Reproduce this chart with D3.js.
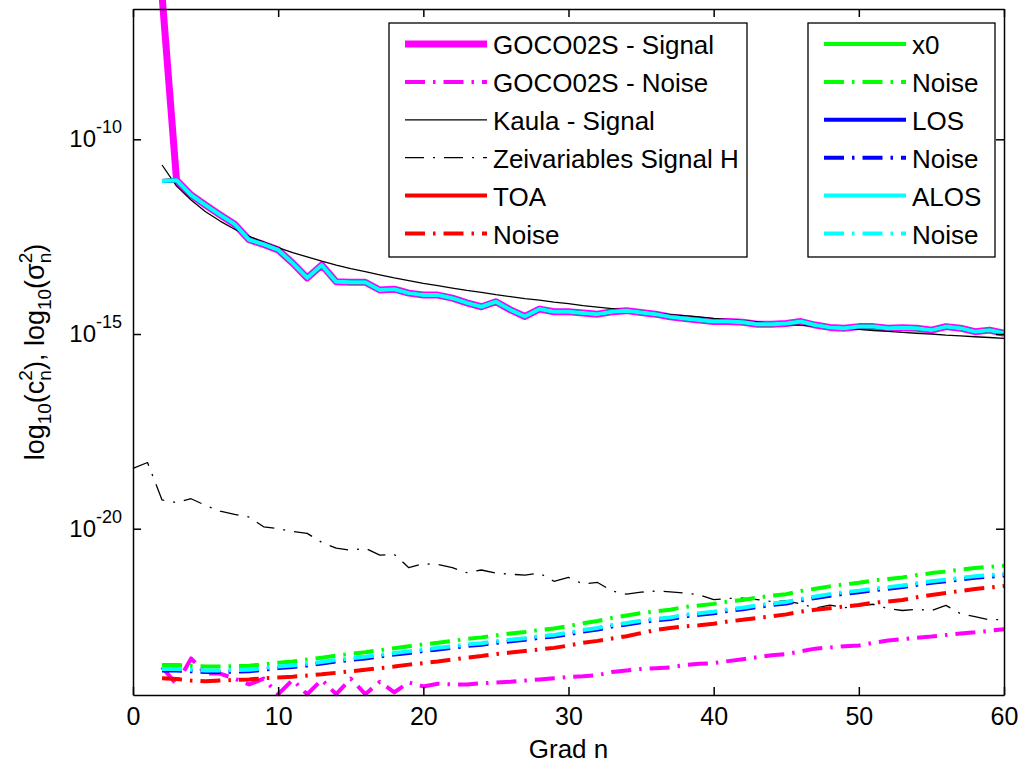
<!DOCTYPE html>
<html>
<head>
<meta charset="utf-8">
<script src="https://cdn.jsdelivr.net/npm/d3@7"></script>
<style>
body { margin: 0; background: #fff; }
text { font-family: Arial, "Liberation Sans", Helvetica, sans-serif; fill: #000; }
</style>
</head>
<body>
<div id="c"></div>
<script>
// degree axis
var x_ticks = [0, 10, 20, 30, 40, 50, 60];
var y_tick_exp = [-20, -15, -10];
var deg = d3.range(2, 61);
var deg_h = d3.range(0, 61);

// all values are log10 of the degree variance
var goco_signal = [-6.30, -11.05, -11.43, -11.69, -11.94, -12.18, -12.58, -12.70,
	-12.84, -13.18, -13.56, -13.23, -13.66, -13.67, -13.67, -13.87, -13.85, -13.95,
	-14.00, -14.00, -14.08, -14.20, -14.30, -14.17, -14.38, -14.55, -14.36, -14.43,
	-14.43, -14.46, -14.49, -14.43, -14.40, -14.45, -14.49, -14.56, -14.60, -14.64,
	-14.68, -14.68, -14.70, -14.75, -14.75, -14.73, -14.68, -14.77, -14.83, -14.85,
	-14.81, -14.81, -14.85, -14.84, -14.85, -14.90, -14.81, -14.85, -14.94, -14.90, -14.98];

var goco_noise = [-23.55, -24.00, -23.33, -23.72, -23.72, -23.85, -24.00, -23.85,
	-24.25, -23.88, -24.25, -23.88, -24.25, -23.85, -24.25, -23.93, -24.20, -23.95,
	-24.05, -23.98, -24.00, -24.00, -23.97, -23.95, -23.93, -23.90, -23.87, -23.84,
	-23.81, -23.79, -23.76, -23.68, -23.64, -23.60, -23.58, -23.56, -23.50, -23.47,
	-23.45, -23.40, -23.35, -23.30, -23.25, -23.22, -23.15, -23.08, -23.05, -23.02,
	-23.00, -22.93, -22.87, -22.84, -22.80, -22.77, -22.73, -22.69, -22.66, -22.62, -22.58];

var kaula_signal = [-10.66, -11.20, -11.56, -11.86, -12.10, -12.31, -12.49, -12.64, -12.78,
	-12.91, -13.02, -13.13, -13.23, -13.32, -13.40, -13.48, -13.56, -13.63, -13.70,
	-13.76, -13.82, -13.88, -13.93, -13.99, -14.04, -14.09, -14.13, -14.18, -14.22,
	-14.27, -14.31, -14.35, -14.39, -14.42, -14.46, -14.50, -14.53, -14.56, -14.60,
	-14.63, -14.66, -14.69, -14.72, -14.75, -14.78, -14.80, -14.83, -14.86, -14.88,
	-14.91, -14.93, -14.96, -14.98, -15.00, -15.03, -15.05, -15.07, -15.09, -15.11];

var zeiv_signal = [-18.45, -18.30, -19.26, -19.33, -19.23, -19.40, -19.55, -19.63, -19.70, -19.95,
	-20.00, -20.07, -20.12, -20.35, -20.50, -20.55, -20.50, -20.68, -20.66, -21.00,
	-20.90, -20.92, -21.00, -21.13, -21.06, -21.14, -21.17, -21.19, -21.14, -21.35,
	-21.25, -21.42, -21.38, -21.60, -21.68, -21.63, -21.60, -21.62, -21.65, -21.70,
	-21.82, -21.79, -21.78, -21.82, -21.87, -21.85, -21.93, -22.04, -21.96, -22.03,
	-21.98, -21.94, -22.05, -22.10, -22.07, -22.10, -21.97, -22.18, -22.26, -22.34,
	-22.33];

// estimated signals (TOA, x0, LOS, ALOS lie on top of each other)
var est_signal = [-11.07, -11.05, -11.43, -11.69, -11.94, -12.18, -12.58, -12.70,
	-12.84, -13.18, -13.56, -13.23, -13.66, -13.67, -13.67, -13.87, -13.85, -13.95,
	-14.00, -14.00, -14.08, -14.20, -14.30, -14.17, -14.38, -14.55, -14.36, -14.43,
	-14.43, -14.46, -14.49, -14.43, -14.40, -14.45, -14.49, -14.56, -14.60, -14.64,
	-14.68, -14.68, -14.70, -14.75, -14.75, -14.73, -14.68, -14.77, -14.83, -14.85,
	-14.81, -14.81, -14.85, -14.84, -14.85, -14.90, -14.81, -14.85, -14.94, -14.90, -14.98];

var toa_noise = [-23.84, -23.86, -23.90, -23.92, -23.90, -23.88, -23.87, -23.84, -23.82,
	-23.80, -23.77, -23.74, -23.70, -23.66, -23.62, -23.58, -23.54, -23.49, -23.45,
	-23.41, -23.36, -23.31, -23.27, -23.22, -23.18, -23.14, -23.10, -23.06, -23.00,
	-22.93, -22.88, -22.82, -22.76, -22.68, -22.60, -22.55, -22.51, -22.48, -22.44,
	-22.38, -22.34, -22.29, -22.25, -22.20, -22.13, -22.08, -22.04, -22.00, -21.96,
	-21.90, -21.87, -21.83, -21.76, -21.70, -21.65, -21.60, -21.55, -21.51, -21.47];

var x0_noise = [-23.50, -23.50, -23.52, -23.54, -23.54, -23.53, -23.52, -23.48, -23.44,
	-23.41, -23.36, -23.31, -23.26, -23.21, -23.17, -23.12, -23.07, -23.02, -22.97,
	-22.93, -22.88, -22.83, -22.79, -22.74, -22.69, -22.65, -22.60, -22.56, -22.50,
	-22.43, -22.37, -22.29, -22.23, -22.17, -22.12, -22.08, -22.01, -21.97, -21.93,
	-21.87, -21.83, -21.77, -21.72, -21.68, -21.60, -21.54, -21.48, -21.43, -21.39,
	-21.33, -21.29, -21.25, -21.19, -21.14, -21.10, -21.05, -21.01, -20.98, -20.95];

var los_noise = [-23.64, -23.64, -23.66, -23.68, -23.68, -23.67, -23.66, -23.62, -23.58,
	-23.55, -23.51, -23.46, -23.41, -23.37, -23.33, -23.28, -23.23, -23.19, -23.14,
	-23.10, -23.06, -23.01, -22.98, -22.93, -22.89, -22.85, -22.80, -22.77, -22.71,
	-22.64, -22.59, -22.51, -22.46, -22.40, -22.35, -22.32, -22.25, -22.21, -22.17,
	-22.11, -22.07, -22.01, -21.96, -21.92, -21.84, -21.78, -21.72, -21.67, -21.63,
	-21.58, -21.54, -21.50, -21.44, -21.39, -21.35, -21.30, -21.26, -21.23, -21.20];

var alos_noise = [-23.60, -23.60, -23.62, -23.64, -23.64, -23.63, -23.62, -23.58, -23.54,
	-23.51, -23.47, -23.42, -23.37, -23.33, -23.29, -23.24, -23.19, -23.15, -23.10,
	-23.06, -23.02, -22.97, -22.94, -22.89, -22.85, -22.81, -22.76, -22.73, -22.67,
	-22.60, -22.55, -22.47, -22.42, -22.36, -22.31, -22.28, -22.21, -22.17, -22.13,
	-22.07, -22.03, -21.97, -21.92, -21.88, -21.80, -21.74, -21.68, -21.63, -21.59,
	-21.54, -21.50, -21.46, -21.40, -21.35, -21.31, -21.26, -21.22, -21.19, -21.16];

var dashdot = '20,8,2.5,8';

var series = [
	{name: 'GOCO02S - Signal', n: deg, v: goco_signal, color: '#ff00ff', w: 7, dash: null},
	{name: 'GOCO02S - Noise', n: deg, v: goco_noise, color: '#ff00ff', w: 4, dash: dashdot},
	{name: 'Kaula - Signal', n: deg, v: kaula_signal, color: '#000000', w: 1.3, dash: null},
	{name: 'Zeivariables Signal H', n: deg_h, v: zeiv_signal, color: '#000000', w: 1.3, dash: '19,9,2,9'},
	{name: 'TOA', n: deg, v: est_signal, color: '#ff0000', w: 4, dash: null},
	{name: 'Noise', n: deg, v: toa_noise, color: '#ff0000', w: 4, dash: dashdot},
	{name: 'x0', n: deg, v: est_signal, color: '#00ff00', w: 4, dash: null},
	{name: 'Noise', n: deg, v: x0_noise, color: '#00ff00', w: 4, dash: dashdot},
	{name: 'LOS', n: deg, v: est_signal, color: '#0000ff', w: 4, dash: null},
	{name: 'Noise', n: deg, v: los_noise, color: '#0000ff', w: 4, dash: dashdot},
	{name: 'ALOS', n: deg, v: est_signal, color: '#00ffff', w: 4, dash: null},
	{name: 'Noise', n: deg, v: alos_noise, color: '#00ffff', w: 4, dash: dashdot}
];

var width = 1020, height = 764;
var x_left = 133, x_right = 1004, y_top = 9, y_bottom = 695;

var svg = d3.select('#c').append('svg')
	.attr('width', width)
	.attr('height', height);

var x = d3.scaleLinear()
	.domain([0, 60])
	.range([x_left, x_right]);

var y = d3.scaleLog()
	.domain([Math.pow(10, -24.27), Math.pow(10, -6.654)])
	.range([y_bottom, y_top]);

var line = d3.line()
	.x(function(d) { return x(d[0]); })
	.y(function(d) { return y(Math.pow(10, d[1])); });

// curves
svg.append('g').selectAll('path')
	.data(series)
	.enter()
	.append('path')
	.attr('d', function(s) { return line(d3.zip(s.n, s.v)); })
	.attr('fill', 'none')
	.attr('stroke', function(s) { return s.color; })
	.attr('stroke-width', function(s) { return s.w; })
	.attr('stroke-dasharray', function(s) { return s.dash; })
	.attr('stroke-linejoin', 'round');

// axes, ticks inside like matlab
var ax_b = svg.append('g')
	.attr('transform', 'translate(0,' + y_bottom + ')')
	.call(d3.axisBottom(x).tickValues(x_ticks).tickSizeInner(-8).tickSizeOuter(0).tickPadding(12));
ax_b.selectAll('text').style('font-size', '25px');

svg.append('g')
	.attr('transform', 'translate(0,' + y_top + ')')
	.call(d3.axisTop(x).tickValues(x_ticks).tickSizeInner(-8).tickSizeOuter(0).tickFormat(''));

var y_ticks = y_tick_exp.map(function(e) { return Math.pow(10, e); });

svg.append('g')
	.attr('transform', 'translate(' + x_left + ',0)')
	.call(d3.axisLeft(y).tickValues(y_ticks).tickSizeInner(-8).tickSizeOuter(0).tickFormat(''));

svg.append('g')
	.attr('transform', 'translate(' + x_right + ',0)')
	.call(d3.axisRight(y).tickValues(y_ticks).tickSizeInner(-8).tickSizeOuter(0).tickFormat(''));

svg.selectAll('.domain').attr('stroke', '#000').attr('stroke-width', 1.5);
svg.selectAll('.tick line').attr('stroke', '#000').attr('stroke-width', 1.5);

// y tick labels 10^e
y_tick_exp.forEach(function(e) {
	var t = svg.append('text')
		.attr('x', x_left - 11)
		.attr('y', y(Math.pow(10, e)) + 8)
		.attr('text-anchor', 'end')
		.style('font-size', '24px');
	t.append('tspan').text('10');
	t.append('tspan').attr('dy', -14).style('font-size', '18px').text(String(e));
});

// axis labels
svg.append('text')
	.attr('x', (x_left + x_right) / 2)
	.attr('y', 758)
	.attr('text-anchor', 'middle')
	.style('font-size', '26px')
	.text('Grad n');

var ylab = svg.append('text')
	.attr('transform', 'translate(44,' + ((y_top + y_bottom) / 2) + ') rotate(-90)')
	.attr('text-anchor', 'middle')
	.style('font-size', '27px');
ylab.append('tspan').text('log');
ylab.append('tspan').attr('dy', 7).style('font-size', '19px').text('10');
ylab.append('tspan').attr('dy', -7).text('(c');
ylab.append('tspan').attr('dy', -12).style('font-size', '19px').text('2');
ylab.append('tspan').attr('dx', -10.6).attr('dy', 19).style('font-size', '19px').text('n');
ylab.append('tspan').attr('dy', -7).text('), log');
ylab.append('tspan').attr('dy', 7).style('font-size', '19px').text('10');
ylab.append('tspan').attr('dy', -7).text('(\u03c3');
ylab.append('tspan').attr('dy', -12).style('font-size', '19px').text('2');
ylab.append('tspan').attr('dx', -10.6).attr('dy', 19).style('font-size', '19px').text('n');
ylab.append('tspan').attr('dy', -7).text(')');

// legends
function draw_legend(items, bx, by, bw, bh) {
	var g = svg.append('g');
	g.append('rect')
		.attr('x', bx).attr('y', by)
		.attr('width', bw).attr('height', bh)
		.attr('fill', '#fff')
		.attr('stroke', '#000')
		.attr('stroke-width', 1.3);
	items.forEach(function(s, i) {
		var cy = by + 21 + i * 37.9;
		g.append('line')
			.attr('x1', bx + 16).attr('x2', bx + 98)
			.attr('y1', cy).attr('y2', cy)
			.attr('stroke', s.color)
			.attr('stroke-width', s.w)
			.attr('stroke-dasharray', s.dash);
		g.append('text')
			.attr('x', bx + 104)
			.attr('y', cy + 10)
			.style('font-size', '26px')
			.text(s.name);
	});
}

draw_legend(series.slice(0, 6), 389, 23, 358, 234);
draw_legend(series.slice(6), 808, 23, 187, 234);
</script>
</body>
</html>
